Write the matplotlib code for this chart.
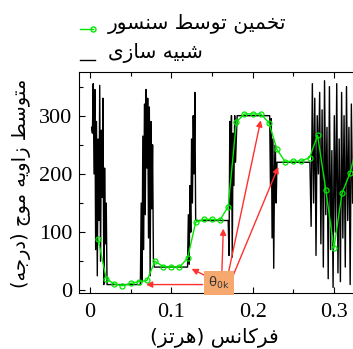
import matplotlib
matplotlib.use("Agg")
import matplotlib.pyplot as plt
from matplotlib.lines import Line2D
from matplotlib.ticker import MultipleLocator

# ---------------- data ----------------
sim_x = [0.002, 0.003, 0.004, 0.005, 0.006, 0.007, 0.008, 0.009, 0.010, 0.011,
         0.012, 0.013, 0.014, 0.015, 0.016, 0.017, 0.018, 0.019, 0.020, 0.021,
         0.022, 0.062,
         0.063, 0.064, 0.065, 0.066, 0.067, 0.068, 0.069, 0.070, 0.071, 0.072,
         0.073, 0.074, 0.075, 0.076, 0.077, 0.078, 0.079,
         0.120,
         0.121, 0.122, 0.123, 0.124, 0.125, 0.126, 0.127, 0.128, 0.129, 0.130,
         0.170,
         0.171, 0.172, 0.173, 0.174, 0.175, 0.176, 0.177, 0.178, 0.179, 0.181,
         0.221,
         0.222, 0.223, 0.224, 0.225, 0.226, 0.227, 0.228, 0.229, 0.230,
         0.2705,
         0.272, 0.2735, 0.275, 0.2765, 0.278, 0.2795, 0.281, 0.2825, 0.284,
         0.2855, 0.287, 0.2885, 0.290, 0.2915, 0.293, 0.2945, 0.296, 0.2975,
         0.299, 0.3005, 0.302, 0.3035, 0.305, 0.3065, 0.308, 0.3095, 0.311,
         0.3125, 0.314, 0.3155, 0.317, 0.3185, 0.320, 0.3215, 0.323]
sim_y = [280, 270, 355, 200, 345, 70, 290, 25, 260, 120,
         352, 50, 275, 160, 330, 10, 210, 80, 150, 10,
         10, 10,
         150, 15, 265, 70, 320, 130, 345, 210, 330, 90,
         315, 25, 290, 140, 250, 55, 40,
         40,
         130, 45, 180, 100, 260, 150, 300, 200, 340, 120,
         120,
         60, 290, 140, 300, 57, 270, 180, 300, 220, 300,
         300,
         180, 295, 90, 260, 38, 210, 250, 150, 220,
         220,
         110, 355, 150, 330, 60, 300, 200, 340, 80,
         310, 40, 360, 130, 280, 20, 350, 70, 240,
         5, 300, 100, 355, 30, 260, 15, 340, 90,
         300, 40, 350, 120, 280, 10, 320, 150]

est_x = [0.01, 0.02, 0.03, 0.04, 0.05, 0.06, 0.07, 0.08, 0.09, 0.10, 0.11,
         0.12, 0.13, 0.14, 0.15, 0.16, 0.17, 0.18, 0.19, 0.20, 0.21, 0.22,
         0.23, 0.24, 0.25, 0.26, 0.27, 0.28, 0.29, 0.30, 0.31, 0.32, 0.33]
est_y = [88, 20, 11, 8, 12, 15, 17, 50, 41, 40, 40,
         55, 117, 122, 122, 121, 144, 289, 303, 303, 303, 288,
         242, 221, 222, 222, 228, 266, 173, 72, 167, 202, 260]

x_ticks = [0, 0.1, 0.2, 0.3]
x_tick_labels = ["0", "0.1", "0.2", "0.3"]
y_ticks = [0, 100, 200, 300]
y_tick_labels = ["0", "100", "200", "300"]

# arrow targets (data coords) from the theta_0k box
arrow_targets_x = [0.069, 0.125, 0.164, 0.210, 0.2316]
arrow_targets_y = [10, 37, 106, 292, 212]

label_est = "تخمین توسط سنسور"
label_sim = "شبیه سازی"
y_label = "متوسط زاویه موج (درجه)"
x_label = "فرکانس (هرتز)"

# ---------------- simple Persian shaping ----------------
FORMS = {
    'ا': ('\uFE8D', '\uFE8E', None, None),
    'ب': ('\uFE8F', '\uFE90', '\uFE91', '\uFE92'),
    'ت': ('\uFE95', '\uFE96', '\uFE97', '\uFE98'),
    'ج': ('\uFE9D', '\uFE9E', '\uFE9F', '\uFEA0'),
    'خ': ('\uFEA5', '\uFEA6', '\uFEA7', '\uFEA8'),
    'د': ('\uFEA9', '\uFEAA', None, None),
    'ر': ('\uFEAD', '\uFEAE', None, None),
    'ز': ('\uFEAF', '\uFEB0', None, None),
    'س': ('\uFEB1', '\uFEB2', '\uFEB3', '\uFEB4'),
    'ش': ('\uFEB5', '\uFEB6', '\uFEB7', '\uFEB8'),
    'ط': ('\uFEC1', '\uFEC2', '\uFEC3', '\uFEC4'),
    'ف': ('\uFED1', '\uFED2', '\uFED3', '\uFED4'),
    'م': ('\uFEE1', '\uFEE2', '\uFEE3', '\uFEE4'),
    'ن': ('\uFEE5', '\uFEE6', '\uFEE7', '\uFEE8'),
    'ه': ('\uFEE9', '\uFEEA', '\uFEEB', '\uFEEC'),
    'و': ('\uFEED', '\uFEEE', None, None),
    'ی': ('\uFBFC', '\uFBFD', '\uFBFE', '\uFBFF'),
    'ک': ('\uFB8E', '\uFB8F', '\uFB90', '\uFB91'),
}
MIRROR = {'(': ')', ')': '('}


def shape(s):
    out = []
    for i, ch in enumerate(s):
        if ch not in FORMS:
            out.append(MIRROR.get(ch, ch))
            continue
        prev = s[i - 1] if i > 0 else None
        nxt = s[i + 1] if i + 1 < len(s) else None
        jp = prev in FORMS and FORMS[prev][2] is not None
        jn = nxt in FORMS and FORMS[ch][2] is not None
        iso, fin, ini, med = FORMS[ch]
        if jp and jn:
            out.append(med)
        elif jp:
            out.append(fin)
        elif jn:
            out.append(ini)
        else:
            out.append(iso)
    return ''.join(reversed(out))


AR_FONT = ['DejaVu Sans', 'Noto Sans']
NUM_FONT = 'Liberation Serif'

W, H = 353, 349
fig = plt.figure(figsize=(W / 100, H / 100), dpi=100)
L, R, T, B = 79, 353, 72, 293.3
ax = fig.add_axes([L / W, (H - B) / H, (R - L) / W, (B - T) / H])

ax.plot(sim_x, sim_y, color='black', lw=1.0, zorder=2)
ax.plot(est_x, est_y, color='#00e600', lw=1.0, marker='o', ms=3.6,
        mfc='none', mec='#00e600', mew=0.9, zorder=3)

ax.set_xlim(-0.0135, 0.3235)
ax.set_ylim(-5, 375)
ax.set_xticks(x_ticks)
ax.set_xticklabels(x_tick_labels)
ax.set_yticks(y_ticks)
ax.set_yticklabels(y_tick_labels)
ax.xaxis.set_minor_locator(MultipleLocator(0.05))
ax.yaxis.set_minor_locator(MultipleLocator(50))
ax.tick_params(which='both', direction='in', top=True, right=False,
               labelsize=16, width=0.8)
ax.tick_params(which='major', length=4)
ax.tick_params(which='minor', length=3)
ax.tick_params(axis='x', pad=7)
ax.tick_params(axis='y', pad=5)
for lab in ax.get_xticklabels() + ax.get_yticklabels():
    lab.set_fontfamily(NUM_FONT)
ax.spines['right'].set_visible(False)
for s in ['left', 'top', 'bottom']:
    ax.spines[s].set_linewidth(0.8)

# theta box with arrows
box_x, box_y = 0.1585, 12
ax.text(box_x, box_y, r'$\mathregular{\theta_{0k}}$', fontsize=9.5,
        color='#333333', ha='center', va='center', zorder=6,
        bbox=dict(boxstyle='square,pad=0.3', fc='#F5A96E', ec='none'))
starts = [(0.1385, 10), (0.148, 21), (0.162, 22), (0.169, 22), (0.175, 22)]
for (sx, sy), tx, ty in zip(starts, arrow_targets_x, arrow_targets_y):
    ax.annotate('', xy=(tx, ty), xytext=(sx, sy),
                arrowprops=dict(arrowstyle='-|>', color='#ff3030', lw=1.0,
                                mutation_scale=9, shrinkA=0, shrinkB=0),
                zorder=5)

# labels
fig.text(21 / W, 1 - 183 / H, shape(y_label), rotation=90, ha='center',
         va='center', fontsize=14, family=AR_FONT)
fig.text(214 / W, 1 - 337 / H, shape(x_label), ha='center', va='center',
         fontsize=14.5, family=AR_FONT)

# legend (manual)
fig.add_artist(Line2D([80 / W, 93 / W], [1 - 29 / H, 1 - 29 / H],
                      color='#00e600', lw=1.0, marker='o', ms=3.6,
                      mfc='none', mec='#00e600', markevery=[1],
                      transform=fig.transFigure))
fig.add_artist(Line2D([80 / W, 95 / W], [1 - 60 / H, 1 - 60 / H],
                      color='black', lw=1.0, transform=fig.transFigure))
fig.text(108 / W, 1 - 24 / H, shape(label_est), ha='left', va='center',
         fontsize=14.5, family=AR_FONT)
fig.text(108 / W, 1 - 53 / H, shape(label_sim), ha='left', va='center',
         fontsize=14.5, family=AR_FONT)

fig.savefig('out.png', dpi=100)
